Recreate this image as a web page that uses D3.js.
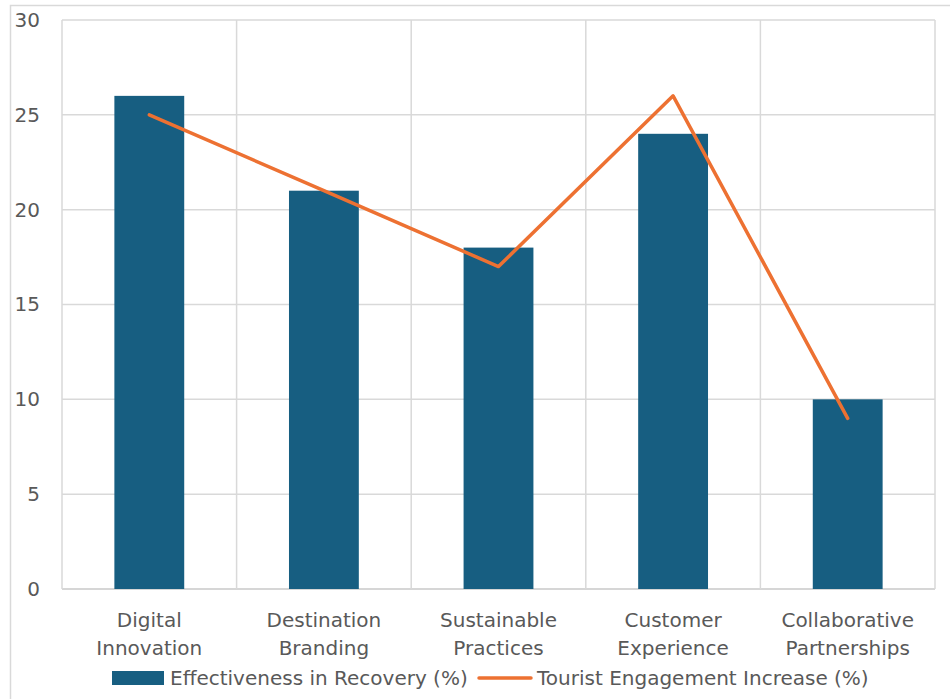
<!DOCTYPE html>
<html>
<head>
<meta charset="utf-8">
<script src="https://cdn.jsdelivr.net/npm/d3@7"></script>
<style>
  body { margin: 0; background: #fff; }
  svg { display: block; font-family: "DejaVu Sans", sans-serif; }
</style>
</head>
<body>
<svg id="chart"></svg>
<script>
// data
const categories = [
  ["Digital", "Innovation"],
  ["Destination", "Branding"],
  ["Sustainable", "Practices"],
  ["Customer", "Experience"],
  ["Collaborative", "Partnerships"],
];
const effectiveness = [26, 21, 18, 24, 10];
const engagement = [25, 21, 17, 26, 9];
const yTicks = [0, 5, 10, 15, 20, 25, 30];
const seriesNames = ["Effectiveness in Recovery (%)", "Tourist Engagement Increase (%)"];

const W = 950, H = 699;
const margin = { top: 20, right: 15, bottom: 110, left: 62 };
const width = W - margin.left - margin.right;
const height = H - margin.top - margin.bottom;
const fontSize = "20px";

const svg = d3.select("#chart").attr("width", W).attr("height", H);

// chart area border (runs off the picture on right/bottom)
svg.append("rect")
  .attr("x", 10.5).attr("y", 5.5)
  .attr("width", W).attr("height", H)
  .attr("fill", "none").attr("stroke", "#d9d9d9").attr("stroke-width", 1.5);

const g = svg.append("g").attr("transform", `translate(${margin.left},${margin.top})`);

const keys = categories.map((d) => d.join(" "));
const x = d3.scaleBand().domain(keys).range([0, width]).paddingInner(0).paddingOuter(0);
const y = d3.scaleLinear().domain([0, 30]).range([height, 0]);

// horizontal gridlines
g.append("g")
  .selectAll("line")
  .data(yTicks)
  .enter()
  .append("line")
  .attr("x1", 0).attr("x2", width)
  .attr("y1", (d) => y(d)).attr("y2", (d) => y(d))
  .attr("stroke", (d) => (d === 0 ? "#c8c8c8" : "#d9d9d9"))
  .attr("stroke-width", 1.5);

// vertical gridlines at category boundaries
const bounds = keys.map((k) => x(k)).concat([width]);
g.append("g")
  .selectAll("line")
  .data(bounds)
  .enter()
  .append("line")
  .attr("x1", (d) => d).attr("x2", (d) => d)
  .attr("y1", 0).attr("y2", height)
  .attr("stroke", "#d9d9d9")
  .attr("stroke-width", 1.5);

// y axis labels
const yAxis = g.append("g").call(d3.axisLeft(y).tickValues(yTicks).tickSize(0).tickPadding(22));
yAxis.select(".domain").remove();
yAxis.selectAll("text")
  .attr("fill", "#595959")
  .style("font-size", fontSize)
  .style("font-family", "DejaVu Sans, sans-serif");

// bars
const barW = x.bandwidth() * 0.4;
g.selectAll(".bar")
  .data(effectiveness)
  .enter()
  .append("rect")
  .attr("class", "bar")
  .attr("x", (d, i) => x(keys[i]) + (x.bandwidth() - barW) / 2)
  .attr("y", (d) => y(d))
  .attr("width", barW)
  .attr("height", (d) => height - y(d))
  .attr("fill", "#175e81");

// line
const line = d3.line()
  .x((d, i) => x(keys[i]) + x.bandwidth() / 2)
  .y((d) => y(d));
g.append("path")
  .datum(engagement)
  .attr("d", line)
  .attr("fill", "none")
  .attr("stroke", "#ed7132")
  .attr("stroke-width", 3.5)
  .attr("stroke-linecap", "round")
  .attr("stroke-linejoin", "round");

// category labels
const catG = g.append("g");
categories.forEach((lines, i) => {
  const t = catG.append("text")
    .attr("x", x(keys[i]) + x.bandwidth() / 2)
    .attr("y", height + 38)
    .attr("text-anchor", "middle")
    .attr("fill", "#595959")
    .style("font-size", fontSize);
  lines.forEach((s, j) => {
    t.append("tspan")
      .attr("x", x(keys[i]) + x.bandwidth() / 2)
      .attr("dy", j === 0 ? 0 : 28)
      .text(s);
  });
});

// legend
const leg = svg.append("g");
leg.append("rect")
  .attr("x", 112).attr("y", 671).attr("width", 52).attr("height", 14)
  .attr("fill", "#175e81");
leg.append("text")
  .attr("x", 170).attr("y", 685)
  .attr("fill", "#595959").style("font-size", fontSize)
  .text(seriesNames[0]);
leg.append("line")
  .attr("x1", 479).attr("x2", 531).attr("y1", 678).attr("y2", 678)
  .attr("stroke", "#ed7132").attr("stroke-width", 3.5).attr("stroke-linecap", "round");
leg.append("text")
  .attr("x", 537).attr("y", 685)
  .attr("fill", "#595959").style("font-size", fontSize)
  .text(seriesNames[1]);
</script>
</body>
</html>
